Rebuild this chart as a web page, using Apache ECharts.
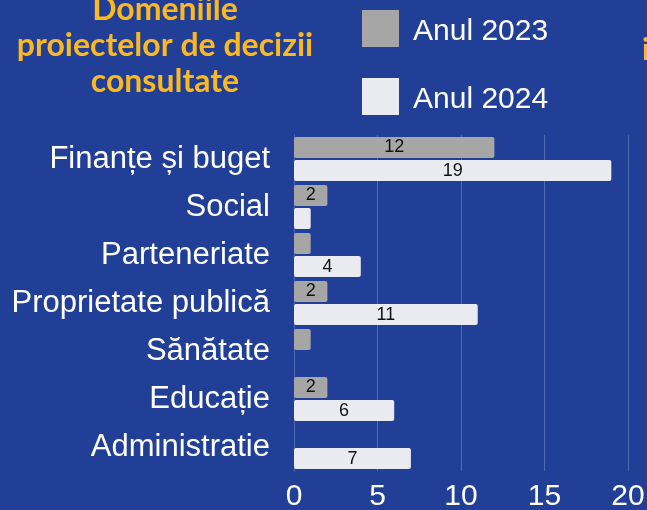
<!DOCTYPE html>
<html>
<head>
<meta charset="utf-8">
<script src="https://cdn.jsdelivr.net/npm/echarts@6/dist/echarts.min.js"></script>
<style>
  html, body { margin: 0; padding: 0; background: #223f98; }
  #chart { width: 647px; height: 510px; }
</style>
</head>
<body>
<div id="chart"></div>
<script>
// date
const categories = ['Finanțe și buget', 'Social', 'Parteneriate', 'Proprietate publică', 'Sănătate', 'Educație', 'Administratie'];
const values2023 = [12, 2, 1, 2, 1, 2, 0];
const values2024 = [19, 1, 4, 11, 0, 6, 7];
const seriesNames = ['Anul 2023', 'Anul 2024'];
const xTicks = [0, 20, 5]; // min, max, pas

let myChart = echarts.init(document.getElementById('chart'));

function barSeries(name, data, color) {
  return {
    name: name,
    type: 'bar',
    data: data,
    barWidth: 21,
    barGap: '10%',
    itemStyle: { color: color, borderRadius: 2 },
    label: {
      show: true,
      position: 'inside',
      color: '#111',
      fontSize: 18,
      fontFamily: 'Liberation Sans',
      formatter: (p) => p.value > 1 ? p.value : ''
    }
  };
}

let option = {
  backgroundColor: '#223f98',
  animation: false,
  graphic: [{
    type: 'text',
    x: 165,
    y: -8,
    style: {
      text: 'Domeniile\nproiectelor de decizii\nconsultate',
      fill: '#fbb91f',
      font: 'bold 32px Lato',
      lineHeight: 36,
      align: 'center',
      verticalAlign: 'top'
    }
  }, {
    type: 'text',
    x: 642,
    y: 50,
    style: {
      text: 'i',
      fill: '#fbb91f',
      font: 'bold 30px Lato',
      align: 'left',
      verticalAlign: 'middle'
    }
  }],
  legend: {
    orient: 'vertical',
    left: 362,
    top: 10,
    padding: 0,
    icon: 'rect',
    itemWidth: 37,
    itemHeight: 37,
    itemGap: 31,
    formatter: '{t|{name}}',
    textStyle: {
      color: '#ffffff',
      fontSize: 30,
      fontFamily: 'Liberation Sans',
      rich: {
        t: {
          color: '#ffffff',
          fontSize: 30,
          fontFamily: 'Liberation Sans',
          padding: [6, 0, 0, 9]
        }
      }
    },
    data: seriesNames
  },
  grid: {
    left: 294,
    right: 19,
    top: 135,
    bottom: 39,
    containLabel: false,
    outerBoundsMode: 'none'
  },
  xAxis: {
    type: 'value',
    min: xTicks[0],
    max: xTicks[1],
    interval: xTicks[2],
    axisLine: { show: false },
    axisTick: { show: false },
    splitLine: { lineStyle: { color: '#5069b3', width: 1 } },
    axisLabel: {
      color: '#ffffff',
      fontSize: 30,
      fontFamily: 'Liberation Sans',
      margin: 11
    }
  },
  yAxis: {
    type: 'category',
    inverse: true,
    data: categories,
    axisLine: { show: true, lineStyle: { color: '#5069b3', width: 1 } },
    axisTick: { show: false },
    axisLabel: {
      color: '#ffffff',
      fontSize: 31,
      fontFamily: 'Liberation Sans',
      margin: 24
    }
  },
  series: [
    barSeries(seriesNames[0], values2023, '#a6a6a6'),
    barSeries(seriesNames[1], values2024, '#eaebf0')
  ]
};

myChart.setOption(option);
</script>
</body>
</html>
